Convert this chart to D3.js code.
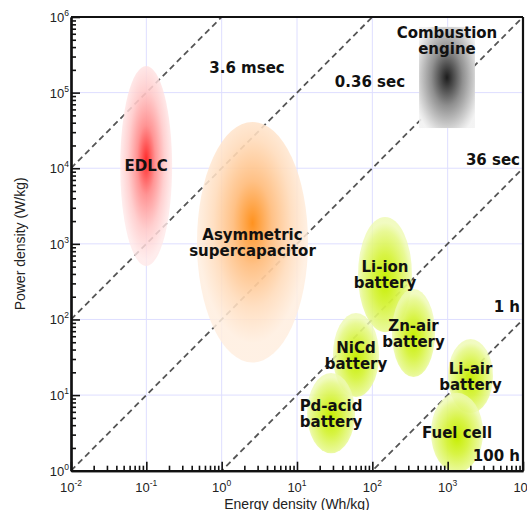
<!DOCTYPE html>
<html><head><meta charset="utf-8">
<script src="https://cdn.jsdelivr.net/npm/d3@7"></script>
<style>body{margin:0;background:#fff;} svg{display:block;}</style>
</head><body><svg id="c" width="527" height="510"></svg>
<script>
// ---- data ----
const devices = ["EDLC", "Asymmetric\nsupercapacitor", "Combustion\nengine", "Li-ion\nbattery", "Zn-air\nbattery", "NiCd\nbattery", "Pd-acid\nbattery", "Li-air\nbattery", "Fuel cell"];
const energyMin = [0.045, 0.47, 417, 64.6, 182, 30, 13.6, 1010, 600];
const energyMax = [0.22, 14, 2300, 336, 680, 123, 59, 4000, 2950];
const powerMin = [510, 27, 34000, 68, 17.3, 9.4, 1.7, 5.8, 0.95];
const powerMax = [225000, 41000, 740000, 2270, 253, 122, 19.6, 55, 10.7];
const deviceKind = ["edlc", "asym", "engine", "battery", "battery", "battery", "battery", "battery", "battery"];
const labelPlacement = ["center", "center", "top", "center", "center", "center", "center", "center", "center"];

const timeHours = [1e-6, 1e-4, 1e-2, 1, 100];
const timeLabels = ["3.6 msec", "0.36 sec", "36 sec", "1 h", "100 h"];
const timeLabelEnergy = [2.17, 93, 9120, 9120, 9120];
const timeLabelPower = [182000, 119000, 11070, 125.6, 1.34];
const timeLabelAnchor = ["middle", "middle", "end", "end", "end"];

const xTickExp = [-2, -1, 0, 1, 2, 3, 4];
const yTickExp = [0, 1, 2, 3, 4, 5, 6];
const xTitle = "Energy density (Wh/kg)";
const yTitle = "Power density (W/kg)";

// ---- layout ----
const L = 71, R = 523, T = 17, B = 470.7;
const svg = d3.select("#c");
const x = d3.scaleLog().domain([1e-2, 1e4]).range([L, R]);
const y = d3.scaleLog().domain([1, 1e6]).range([B, T]);

const defs = svg.append("defs");
defs.append("clipPath").attr("id", "plot").append("rect")
  .attr("x", L).attr("y", T).attr("width", R - L).attr("height", B - T);

function grad(id, cy, stops, r) {
  const g = defs.append("radialGradient").attr("id", id)
    .attr("cx", 0.5).attr("cy", cy).attr("fx", 0.5).attr("fy", cy).attr("r", r || 0.5);
  stops.forEach(s => g.append("stop").attr("offset", s[0]).attr("stop-color", s[1]).attr("stop-opacity", s[2]));
}
grad("g-edlc", 0.47, [[0, "#ff2a2a", 1], [0.35, "#ff8f8f", 0.95], [0.7, "#ffcaca", 0.9], [1, "#ffe8e8", 0.8]]);
grad("g-asym", 0.42, [[0, "#ff921f", 1], [0.35, "#ffbe80", 0.95], [0.7, "#ffdcbc", 0.9], [1, "#ffeedf", 0.85]]);
grad("g-engine", 0.5, [[0, "#1c1c1c", 1], [0.45, "#8f8f8f", 1], [0.9, "#e4e4e4", 1], [1, "#f2f2f2", 0.9]], 0.62);
grad("g-battery", 0.55, [[0, "#c6ee00", 1], [0.45, "#d6f33c", 0.95], [0.85, "#e6f88a", 0.9], [1, "#eefab2", 0.8]]);

// grid
const gGrid = svg.append("g");
xTickExp.forEach(e => gGrid.append("line").attr("x1", x(10 ** e)).attr("x2", x(10 ** e))
  .attr("y1", T).attr("y2", B).attr("stroke", "#dedeff").attr("stroke-width", 1));
yTickExp.forEach(e => gGrid.append("line").attr("y1", y(10 ** e)).attr("y2", y(10 ** e))
  .attr("x1", L).attr("x2", R).attr("stroke", "#dedeff").attr("stroke-width", 1));

// time constant lines
const gLines = svg.append("g").attr("clip-path", "url(#plot)");
const line = d3.line().x(d => x(d[0])).y(d => y(d[1]));
timeHours.forEach(t => {
  const pts = [1e-2, 1e4].map(e => [e, e / t]);
  gLines.append("path").attr("d", line(pts)).attr("fill", "none")
    .attr("stroke", "#555").attr("stroke-width", 1.8).attr("stroke-dasharray", "6,4");
});

// device regions
const gShapes = svg.append("g").attr("clip-path", "url(#plot)");
devices.forEach((d, i) => {
  const x0 = x(energyMin[i]), x1 = x(energyMax[i]);
  const y0 = y(powerMax[i]), y1 = y(powerMin[i]);
  const kind = deviceKind[i];
  if (kind === "engine") {
    gShapes.append("rect").attr("x", x0).attr("y", y0).attr("width", x1 - x0).attr("height", y1 - y0)
      .attr("fill", "url(#g-engine)");
  } else {
    gShapes.append("ellipse").attr("cx", (x0 + x1) / 2).attr("cy", (y0 + y1) / 2)
      .attr("rx", (x1 - x0) / 2).attr("ry", (y1 - y0) / 2).attr("fill", "url(#g-" + kind + ")");
  }
});

// axes
const majorX = xTickExp.map(e => 10 ** e);
const majorY = yTickExp.map(e => 10 ** e);
const minorX = [], minorY = [];
xTickExp.slice(0, -1).forEach(e => { for (let k = 2; k < 10; k++) minorX.push(k * 10 ** e); });
yTickExp.slice(0, -1).forEach(e => { for (let k = 2; k < 10; k++) minorY.push(k * 10 ** e); });

function styleAxis(g) {
  g.selectAll("path.domain").attr("stroke", "#111").attr("stroke-width", 2.2);
  g.selectAll(".tick line").attr("stroke", "#111").attr("stroke-width", 1.6);
  g.selectAll(".tick text").remove();
}
svg.append("g").attr("transform", `translate(0,${B})`)
  .call(d3.axisBottom(x).tickValues(minorX).tickSizeInner(-5).tickSizeOuter(0).tickFormat(""))
  .call(styleAxis);
svg.append("g").attr("transform", `translate(0,${B})`)
  .call(d3.axisBottom(x).tickValues(majorX).tickSizeInner(-9).tickSizeOuter(0).tickFormat(""))
  .call(styleAxis);
svg.append("g").attr("transform", `translate(${L},0)`)
  .call(d3.axisLeft(y).tickValues(minorY).tickSizeInner(-5).tickSizeOuter(0).tickFormat(""))
  .call(styleAxis);
svg.append("g").attr("transform", `translate(${L},0)`)
  .call(d3.axisLeft(y).tickValues(majorY).tickSizeInner(-9).tickSizeOuter(0).tickFormat(""))
  .call(styleAxis);
// frame top/right
svg.append("line").attr("x1", L).attr("x2", R).attr("y1", T).attr("y2", T).attr("stroke", "#111").attr("stroke-width", 2.2);
svg.append("line").attr("x1", R).attr("x2", R).attr("y1", T).attr("y2", B).attr("stroke", "#111").attr("stroke-width", 2.2);

// tick labels
const tickFont = "'Liberation Sans', Arial, sans-serif";
xTickExp.forEach(e => {
  const t = svg.append("text").attr("x", x(10 ** e)).attr("y", 492).attr("text-anchor", "middle")
    .attr("font-family", tickFont).attr("font-size", 13).attr("fill", "#222");
  t.append("tspan").text("10");
  t.append("tspan").attr("dy", -6).attr("font-size", 8.5).text(String(e));
});
yTickExp.forEach(e => {
  const t = svg.append("text").attr("x", 69).attr("y", y(10 ** e) + 5).attr("text-anchor", "end")
    .attr("font-family", tickFont).attr("font-size", 13).attr("fill", "#222");
  t.append("tspan").text("10");
  t.append("tspan").attr("dy", -6).attr("font-size", 8.5).text(String(e));
});

// axis titles
svg.append("text").attr("x", (L + R) / 2).attr("y", 509).attr("text-anchor", "middle")
  .attr("font-family", tickFont).attr("font-size", 14).attr("fill", "#222").text(xTitle);
svg.append("text").attr("transform", `translate(25,${(T + B) / 2}) rotate(-90)`).attr("text-anchor", "middle")
  .attr("font-family", tickFont).attr("font-size", 14).attr("fill", "#222").text(yTitle);

// time constant labels
const boldFont = "'DejaVu Sans', Verdana, sans-serif";
timeLabels.forEach((s, i) => {
  svg.append("text").attr("x", x(timeLabelEnergy[i])).attr("y", y(timeLabelPower[i]))
    .attr("text-anchor", timeLabelAnchor[i]).attr("font-family", boldFont).attr("font-weight", "bold")
    .attr("font-size", 15).attr("fill", "#111").text(s);
});

// device labels
devices.forEach((d, i) => {
  const lines = d.split("\n");
  const cx = (x(energyMin[i]) + x(energyMax[i])) / 2;
  let firstBase;
  if (labelPlacement[i] === "top") firstBase = y(powerMax[i]) + 11;
  else firstBase = (y(powerMin[i]) + y(powerMax[i])) / 2 - (lines.length - 1) * 8 + 5.5;
  const t = svg.append("text").attr("text-anchor", "middle").attr("font-family", boldFont)
    .attr("font-weight", "bold").attr("font-size", 15).attr("fill", "#111");
  lines.forEach((ln, j) => t.append("tspan").attr("x", cx).attr("y", firstBase + j * 16).text(ln));
});
</script>
</body></html>
